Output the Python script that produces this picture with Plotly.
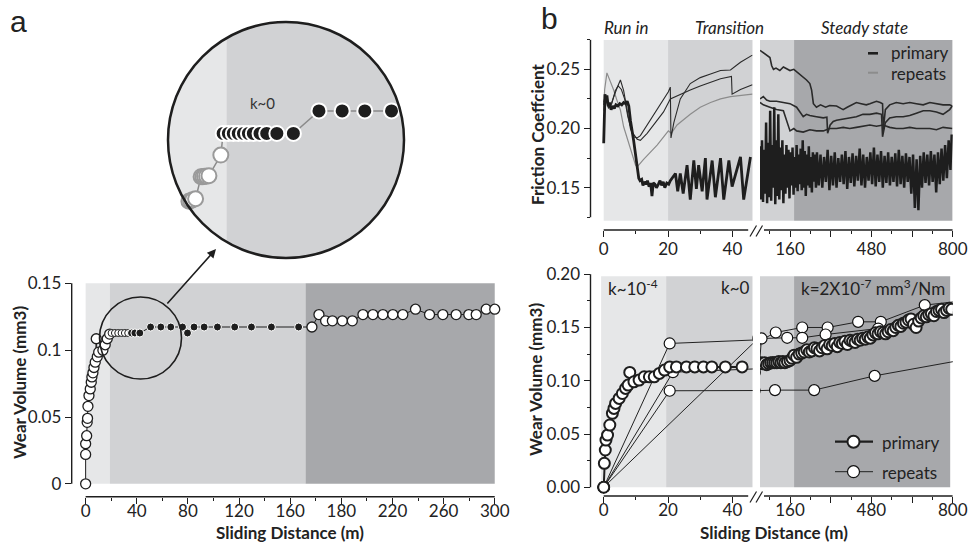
import plotly.graph_objects as go
import numpy as np

W, H = 971, 543
def PX(p): return p / W
def PY(p): return 1 - p / H

FONT = "Lato, 'Open Sans', sans-serif"
INK = "#1e1e1e"
LIGHT, MED, DARK = "#e6e7e8", "#d1d2d4", "#a7a8ab"

# ---------------- panel a : wear volume (axis positions as drawn) ----------------
a_open1_x = [0, 0, 0, 0.8, 1.2, 1.5, 1.8, 2.6, 3.6, 4.4, 4.9, 5.7, 6.5, 7.5, 8.3, 9.1, 10.2, 13.5, 15.3, 16.9, 18.8]
a_open1_v = [0, 0.022, 0.030, 0.036, 0.046, 0.049, 0.058, 0.066, 0.071, 0.076, 0.080, 0.083, 0.087, 0.091, 0.1085, 0.095, 0.0985, 0.100, 0.104, 0.1085, 0.112]
a_small_x = [20.3, 22.9, 25.5, 28.1, 30.7, 33.3]
a_small_v = [0.1128, 0.1128, 0.1128, 0.1128, 0.1128, 0.1128]
a_black_x = [35.9, 38.5, 42.4, 50.8, 58.8, 66.6, 75.8, 79.7, 84.8, 92.7, 103.1, 116.6, 129.7, 145.3, 166.6]
a_black_v = [0.1128, 0.1128, 0.1128, 0.1173, 0.1173, 0.1173, 0.1173, 0.1128, 0.1173, 0.1173, 0.1173, 0.1173, 0.1173, 0.1173, 0.1173]
a_open2_x = [177, 182.5, 187.7, 193, 200.8, 208.6, 216.9, 224.7, 232.5, 240.3, 248.1, 258, 269, 279.4, 289.8, 299.7, 305.5, 313.3, 320]
a_open2_v = [0.1173, 0.1266, 0.1219, 0.1219, 0.1219, 0.1219, 0.1266, 0.1266, 0.1266, 0.1266, 0.1266, 0.1306, 0.1266, 0.1266, 0.1266, 0.1266, 0.1266, 0.1306, 0.1306]
a_xtick_vals = [0, 40, 80, 120, 160, 200, 240, 280, 320]
a_xtick_text = ["0", "40", "80", "120", "160", "180", "220", "260", "300"]
a_xminor_vals = [20, 60, 100, 140, 180, 220, 260, 300]
a_ytick_vals = [0, 0.05, 0.1, 0.15]
a_ytick_text = ["0", "0.05", "0.1", "0.15"]
a_zones = [(0, 19, LIGHT), (19, 172, MED), (172, 320, DARK)]

# magnified inset
ins_gray_x = [6.0, 6.6, 7.3, 8.3, 10.2, 10.8, 11.4, 12.1, 12.9, 17.0]
ins_gray_v = [0.0993, 0.0994, 0.0996, 0.0998, 0.1042, 0.1042, 0.1043, 0.1043, 0.1044, 0.1085]
ins_black_x = [17.8, 19.6, 21.3, 23.0, 24.8, 26.5, 28.2, 30.5, 32.8, 36.3, 42.0, 50.8, 58.8, 66.6, 75.8]
ins_black_v = [0.1128] * 11 + [0.1173] * 4

# ---------------- panel b top : friction coefficient ----------------
fp_l_x = [0, 0.2, 0.4, 0.7, 1.0, 1.4, 1.8, 2.3, 2.8, 3.3, 3.8, 4.4, 5.0, 5.6, 6.2, 6.8, 7.3, 7.8, 8.3, 9.3,
          10.4, 10.9, 11.3, 11.8, 12.2, 12.7, 13.2, 13.6, 14.1, 14.6, 15.0, 15.4, 15.9, 16.4, 17.0, 17.5, 18.0,
          18.5, 19.0, 19.6, 20.2, 20.7, 22.3, 23.0, 23.8, 24.7, 25.9, 26.9, 28.0, 28.8, 29.5, 30.6, 31.6, 32.1,
          33.7, 34.7, 36.3, 37.3, 38.9, 39.9, 42.5, 43.5, 45.6]
fp_l_v = [0.1875, 0.215, 0.229, 0.224, 0.228, 0.219, 0.222, 0.216, 0.219, 0.217, 0.220, 0.219, 0.221, 0.220,
          0.222, 0.221, 0.223, 0.219, 0.207, 0.190, 0.168, 0.158, 0.156, 0.157, 0.152, 0.155, 0.153, 0.156,
          0.151, 0.154, 0.143, 0.154, 0.153, 0.150, 0.153, 0.156, 0.152, 0.155, 0.150, 0.154, 0.153, 0.156,
          0.162, 0.147, 0.162, 0.145, 0.169, 0.140, 0.173, 0.149, 0.169, 0.147, 0.175, 0.140, 0.173, 0.142,
          0.175, 0.140, 0.173, 0.151, 0.176, 0.140, 0.176]
fr1_x = [0, 0.5, 1.5, 2.5, 4.1, 5.2, 6.2, 7.3, 8.3, 9.3, 10.4, 11.4, 14.5, 16.6, 18.6, 20.1, 20.7, 20.9,
         21.8, 23.8, 26.9, 30.0, 33.2, 36.3, 39.4, 42.5, 46.2]
fr1_v = [0.222, 0.228, 0.218, 0.222, 0.234, 0.241, 0.232, 0.215, 0.200, 0.193, 0.192, 0.194, 0.207, 0.216,
         0.225, 0.231, 0.235, 0.192, 0.205, 0.225, 0.238, 0.243, 0.246, 0.249, 0.2495, 0.256, 0.262]
fr2_x = [0, 0.5, 1.5, 2.5, 3.6, 4.5, 5.5, 6.5, 7.5, 8.8, 10.4, 11.4, 13.5, 16.6, 18.6, 20.7, 23.8, 26.9,
         30.0, 33.2, 36.3, 39.7, 39.9, 42.5, 46.2]
fr2_v = [0.220, 0.226, 0.217, 0.221, 0.232, 0.236, 0.233, 0.225, 0.210, 0.197, 0.191, 0.190, 0.196, 0.207,
         0.214, 0.225, 0.229, 0.2325, 0.236, 0.239, 0.242, 0.244, 0.229, 0.233, 0.237]
fr3_x = [0, 0.3, 1.0, 2.1, 3.1, 4.1, 5.2, 6.2, 7.3, 8.8, 9.9, 10.4, 12.4, 16.6, 20.1, 21.0, 22.8, 26.9,
         30.0, 33.2, 36.3, 39.4, 42.5, 46.2]
fr3_v = [0.215, 0.233, 0.247, 0.240, 0.2325, 0.224, 0.2156, 0.2015, 0.192, 0.179, 0.169, 0.1677, 0.174,
         0.186, 0.198, 0.196, 0.203, 0.212, 0.218, 0.222, 0.225, 0.227, 0.228, 0.229]

fp_r_x = [42, 46, 50, 54, 58, 62, 66, 70, 74, 78, 82, 86, 90, 94, 98, 102, 106, 110, 114, 118, 122, 126,
          130, 134, 138, 142, 146, 150, 154, 158, 162, 166, 170, 174, 178, 182, 186, 190, 194, 198, 202,
          206, 210, 214, 218, 222, 226, 230, 234, 238, 242, 246, 250, 254, 258, 262,
          266, 273, 280, 287, 294, 301, 308, 315, 322, 329, 336, 343, 350, 357, 364, 371, 378, 385, 392,
          399, 406, 413, 420, 427, 434, 441, 448, 455, 462, 469, 476, 483, 490, 497, 504, 511, 518, 525,
          532, 539, 546, 553, 560, 567, 574, 581, 588, 595, 602, 609, 616, 623, 630, 637, 644, 651, 658,
          665, 672, 679, 686, 693, 700, 707, 714, 721, 728, 735, 742, 749, 756, 763, 770, 777, 784, 791, 796]
fp_r_v = [0.185, 0.140, 0.190, 0.138, 0.182, 0.145, 0.205, 0.137, 0.188, 0.142, 0.215, 0.139, 0.186, 0.150,
          0.218, 0.136, 0.190, 0.143, 0.212, 0.140, 0.184, 0.148, 0.190, 0.137, 0.178, 0.145, 0.186, 0.150,
          0.182, 0.141, 0.180, 0.152, 0.184, 0.144, 0.176, 0.150, 0.186, 0.147, 0.178, 0.153, 0.183, 0.148,
          0.190, 0.150, 0.181, 0.143, 0.178, 0.152, 0.185, 0.150, 0.176, 0.146, 0.180, 0.155, 0.178, 0.150,
          0.180, 0.152, 0.178, 0.150, 0.176, 0.155, 0.182, 0.148, 0.177, 0.152, 0.180, 0.150, 0.175, 0.155,
          0.178, 0.153, 0.181, 0.149, 0.176, 0.154, 0.179, 0.151, 0.177, 0.156, 0.183, 0.152, 0.178, 0.150,
          0.176, 0.156, 0.180, 0.153, 0.184, 0.151, 0.178, 0.155, 0.181, 0.150, 0.177, 0.154, 0.180, 0.152,
          0.176, 0.155, 0.179, 0.151, 0.182, 0.153, 0.177, 0.150, 0.179, 0.155, 0.176, 0.145, 0.178, 0.133,
          0.174, 0.131, 0.177, 0.150, 0.180, 0.154, 0.178, 0.152, 0.181, 0.155, 0.178, 0.146, 0.180, 0.153,
          0.183, 0.156, 0.186, 0.158, 0.190, 0.165, 0.195]
fc1_x = [42, 55, 68, 81, 88, 95, 105, 120, 134, 150, 160, 175, 186, 200, 212, 225, 238, 245, 252, 264, 280,
         291, 300, 316, 330, 343, 360, 369, 385, 395, 410, 421, 440, 460, 474, 490, 500, 515, 524, 527, 535,
         552, 578, 605, 631, 657, 684, 710, 736, 762, 788, 798]
fc1_v = [0.266, 0.264, 0.262, 0.260, 0.253, 0.250, 0.251, 0.249, 0.252, 0.250, 0.249, 0.250, 0.248, 0.246,
         0.243, 0.241, 0.238, 0.2325, 0.221, 0.218, 0.220, 0.219, 0.218, 0.2195, 0.219, 0.219, 0.217, 0.216,
         0.218, 0.219, 0.221, 0.222, 0.221, 0.220, 0.221, 0.222, 0.223, 0.222, 0.221, 0.199, 0.216, 0.220,
         0.222, 0.221, 0.222, 0.221, 0.220, 0.222, 0.221, 0.220, 0.220, 0.219]
fc2_x = [42, 55, 68, 81, 107, 134, 160, 186, 200, 212, 225, 238, 264, 291, 305, 308, 318, 330, 343, 369,
         395, 421, 447, 474, 500, 520, 524, 535, 552, 578, 605, 631, 657, 684, 710, 736, 762, 788, 798]
fc2_v = [0.225, 0.227, 0.224, 0.223, 0.223, 0.222, 0.221, 0.218, 0.214, 0.210, 0.212, 0.211, 0.210, 0.209,
         0.2095, 0.196, 0.203, 0.206, 0.207, 0.208, 0.209, 0.210, 0.212, 0.212, 0.213, 0.212, 0.193, 0.205,
         0.209, 0.210, 0.210, 0.211, 0.213, 0.215, 0.215, 0.214, 0.212, 0.216, 0.219]
fc3_x = [42, 55, 81, 107, 134, 150, 160, 175, 186, 212, 238, 264, 291, 316, 343, 369, 395, 421, 447, 474,
         500, 526, 552, 578, 605, 631, 657, 684, 710, 736, 762, 798]
fc3_v = [0.222, 0.220, 0.218, 0.216, 0.215, 0.205, 0.198, 0.200, 0.198, 0.197, 0.199, 0.198, 0.198, 0.200,
         0.200, 0.201, 0.200, 0.201, 0.202, 0.203, 0.202, 0.203, 0.201, 0.200, 0.200, 0.201, 0.200, 0.200,
         0.200, 0.199, 0.201, 0.200]

# ---------------- panel b bottom : wear volume ----------------
wp_l_x = [0, 0.2, 0.5, 0.7, 1.2, 1.9, 2.7, 3.2, 3.7, 4.8, 5.8, 6.8, 7.6, 8.1, 9.4, 11.0, 12.6, 14.2, 15.7,
          17.3, 18.9, 20.5, 22.6, 25.7, 28.3, 31.0, 33.6, 37.8, 43.0]
wp_l_v = [0, 0.0225, 0.035, 0.0443, 0.049, 0.0584, 0.0694, 0.074, 0.0787, 0.0834, 0.088, 0.0928, 0.0959,
          0.1078, 0.099, 0.1006, 0.1037, 0.1037, 0.1037, 0.1069, 0.110, 0.113, 0.113, 0.113, 0.113, 0.113,
          0.113, 0.113, 0.113]
wp_r_x = [44, 52, 60, 68, 76, 84, 92, 100, 108, 116, 124, 132, 140, 150, 160, 168, 176, 186, 196, 206, 216,
          226, 236, 246, 256, 266, 276, 286, 296, 306, 316, 326, 336, 346, 356, 366, 376, 386, 396, 406, 416,
          426, 436, 446, 456, 466, 476, 486, 496, 506, 516, 526, 536, 546, 556, 566, 576, 586, 596, 606, 616,
          626, 636, 646, 656, 666, 676, 686, 696, 706, 716, 726, 736, 746, 756, 766, 776, 786, 796]
wp_r_v = [0.117, 0.116, 0.117, 0.115, 0.116, 0.117, 0.117, 0.117, 0.117, 0.118, 0.117, 0.118, 0.117, 0.118,
          0.119, 0.121, 0.124, 0.122, 0.125, 0.126, 0.127, 0.129, 0.127, 0.128, 0.131, 0.130, 0.128, 0.131,
          0.133, 0.130, 0.134, 0.133, 0.135, 0.132, 0.136, 0.135, 0.137, 0.134, 0.138, 0.137, 0.136, 0.139,
          0.138, 0.140, 0.139, 0.141, 0.140, 0.143, 0.145, 0.144, 0.146, 0.145, 0.144, 0.146, 0.148, 0.147,
          0.150, 0.152, 0.151, 0.154, 0.155, 0.157, 0.158, 0.153, 0.150, 0.156, 0.159, 0.161, 0.160, 0.162,
          0.163, 0.161, 0.165, 0.166, 0.167, 0.164, 0.166, 0.168, 0.167]
rep_a_x = [0, 20.5, 104, 208, 308, 428, 517, 690, 840]
rep_a_v = [0, 0.135, 0.1453, 0.150, 0.150, 0.1553, 0.1553, 0.171, 0.175]
rep_b_x = [0, 48, 149, 208, 300, 507, 850]
rep_b_v = [0, 0.1397, 0.1403, 0.1403, 0.1434, 0.149, 0.170]
rep_c_x = [0, 21.5, 95]
rep_c_v = [0, 0.108, 0.117]
rep_d_x = [0, 20.5, 101, 255, 493, 850]
rep_d_v = [0, 0.0906, 0.0912, 0.0912, 0.1046, 0.120]
repeats = [(rep_a_x, rep_a_v), (rep_b_x, rep_b_v), (rep_c_x, rep_c_v), (rep_d_x, rep_d_v)]

b_left_ticks = [0, 20, 40]
b_left_minor = [10, 30]
b_right_ticks = [160, 320, 480, 640, 800]
b_right_text = ["160", "", "480", "", "800"]
b_right_minor = [80, 240, 400, 560, 720]

# ---------------- figure ----------------
fig = go.Figure()

def add(x, y, xa, ya, **kw):
    fig.add_trace(go.Scatter(x=x, y=y, xaxis=xa, yaxis=ya, showlegend=False, hoverinfo="skip", **kw))

# panel a
a_all_x = a_open1_x + a_small_x + a_black_x + a_open2_x
a_all_v = a_open1_v + a_small_v + a_black_v + a_open2_v
add(a_all_x, a_all_v, "x", "y", mode="lines", line=dict(color=INK, width=1))
openm = dict(color="white", size=10, line=dict(color=INK, width=1.3))
add(a_open1_x, a_open1_v, "x", "y", mode="markers", marker=openm, cliponaxis=False)
add(a_small_x, a_small_v, "x", "y", mode="markers",
    marker=dict(color="white", size=7, line=dict(color=INK, width=1)), cliponaxis=False)
add(a_black_x, a_black_v, "x", "y", mode="markers",
    marker=dict(color=INK, size=8, line=dict(color="white", width=1)), cliponaxis=False)
add(a_open2_x, a_open2_v, "x", "y", mode="markers", marker=openm, cliponaxis=False)

# inset
add(ins_gray_x + ins_black_x, ins_gray_v + ins_black_v, "x6", "y6", mode="lines",
    line=dict(color="#8a8a8a", width=1.5))
add(ins_gray_x, ins_gray_v, "x6", "y6", mode="markers",
    marker=dict(color="white", size=15, line=dict(color="#9a9a9a", width=2)))
add(ins_black_x, ins_black_v, "x6", "y6", mode="markers",
    marker=dict(color=INK, size=15, line=dict(color="white", width=2)))

# friction
for xs, vs, col, wd in [(fr3_x, fr3_v, "#8c8c8c", 1.2), (fr1_x, fr1_v, "#2a2a2a", 1.1),
                        (fr2_x, fr2_v, "#2a2a2a", 1.1), (fp_l_x, fp_l_v, INK, 2.8)]:
    add(xs, vs, "x2", "y2", mode="lines", line=dict(color=col, width=wd))
for xs, vs in [(fc1_x, fc1_v), (fc2_x, fc2_v), (fc3_x, fc3_v)]:
    add(xs, vs, "x3", "y3", mode="lines", line=dict(color="#2a2a2a", width=1.6))
add(fp_r_x, fp_r_v, "x3", "y3", mode="lines", line=dict(color=INK, width=2.5))

# wear volume b
repm = dict(color="white", size=11, line=dict(color="#111", width=1.2))
for xa, ya in [("x4", "y4"), ("x5", "y5")]:
    for xs, vs in repeats:
        add(xs, vs, xa, ya, mode="lines+markers", line=dict(color="#222", width=1), marker=repm)
prim = dict(color="white", size=11, line=dict(color=INK, width=2))
add(wp_l_x, wp_l_v, "x4", "y4", mode="lines+markers", line=dict(color=INK, width=2), marker=prim)
add(wp_r_x, wp_r_v, "x5", "y5", mode="lines+markers", line=dict(color=INK, width=2), marker=prim)

# ---------------- axes ----------------
tf = dict(family=FONT, size=17, color="#222")
def ax(**kw):
    d = dict(showgrid=False, zeroline=False, showline=False, ticks="outside", tickcolor=INK,
             tickwidth=1.4, ticklen=6, tickfont=tf, automargin=False)
    d.update(kw)
    return d
def minor(vals):
    return dict(tickvals=vals, ticks="outside", ticklen=3, tickcolor=INK, tickwidth=1.2)
def hidden(**kw):
    d = dict(visible=False, automargin=False)
    d.update(kw)
    return d

xl_dom = [PX(590.5), PX(752.7)]
xr_dom = [PX(760), PX(952.8)]
yt_dom = [PY(230), PY(39.5)]
yb_dom = [PY(496), PY(274)]

fig.update_layout(
    template="none",
    width=W, height=H, autosize=False, margin=dict(l=0, r=0, t=0, b=0, pad=0),
    paper_bgcolor="white", plot_bgcolor="rgba(0,0,0,0)", showlegend=False,
    font=dict(family=FONT, color="#222"),
    xaxis=ax(domain=[PX(71.7), PX(495)], range=[-10.9, 320.2], anchor="y", ticklabelstandoff=-7,
             tickmode="array", tickvals=a_xtick_vals, ticktext=a_xtick_text, minor=minor(a_xminor_vals)),
    yaxis=ax(domain=[PY(496.7), PY(283)], range=[-0.0096, 0.1502], anchor="x",
             tickmode="array", tickvals=a_ytick_vals, ticktext=a_ytick_text),
    xaxis2=ax(domain=xl_dom, range=[-4.1, 46.3], anchor="y2", tickmode="array", ticklabelstandoff=-2,
              tickvals=b_left_ticks, minor=minor(b_left_minor)),
    yaxis2=ax(domain=yt_dom, range=[0.1143, 0.2752], anchor="x2", tickmode="array",
              tickvals=[0.15, 0.20, 0.25], ticktext=["0.15", "0.20", "0.25"],
              minor=minor([0.125, 0.175, 0.225, 0.275])),
    xaxis3=ax(domain=xr_dom, range=[42, 800.3], anchor="y3", tickmode="array", ticklabelstandoff=-2,
              tickvals=b_right_ticks, ticktext=b_right_text, minor=minor(b_right_minor)),
    yaxis3=hidden(domain=yt_dom, range=[0.1143, 0.2752], anchor="x3"),
    xaxis4=ax(domain=xl_dom, range=[-4.1, 46.3], anchor="y4", tickmode="array", ticklabelstandoff=-7,
              tickvals=b_left_ticks, minor=minor(b_left_minor)),
    yaxis4=ax(domain=yb_dom, range=[-0.0082, 0.2002], anchor="x4", tickmode="array",
              tickvals=[0, 0.05, 0.10, 0.15, 0.20], ticktext=["0.00", "0.05", "0.10", "0.15", "0.20"],
              minor=minor([0.025, 0.075, 0.125, 0.175])),
    xaxis5=ax(domain=xr_dom, range=[42, 800.3], anchor="y5", tickmode="array", ticklabelstandoff=-7,
              tickvals=b_right_ticks, ticktext=b_right_text, minor=minor(b_right_minor)),
    yaxis5=hidden(domain=yb_dom, range=[-0.0082, 0.2002], anchor="x5"),
    xaxis6=hidden(domain=[PX(168), PX(404)], range=[-1.2, 80.1], anchor="y6"),
    yaxis6=hidden(domain=[PY(258), PY(22)], range=[0.0880, 0.1350], anchor="x6"),
)

# ---------------- shapes ----------------
shapes = []
def rect(xref, yref, x0, x1, y0, y1, col, layer="below"):
    shapes.append(dict(type="rect", xref=xref, yref=yref, x0=x0, x1=x1, y0=y0, y1=y1,
                       fillcolor=col, line=dict(width=0), layer=layer))
def line(xref, yref, x0, x1, y0, y1, col=INK, w=1.4, layer="above"):
    shapes.append(dict(type="line", xref=xref, yref=yref, x0=x0, x1=x1, y0=y0, y1=y1,
                       line=dict(color=col, width=w), layer=layer))

for x0, x1, c in a_zones:
    rect("x", "y", x0, x1, 0, 0.15, c)
rect("x2", "y2", 0, 20, 0.1222, 0.2747, LIGHT)
rect("x2", "y2", 20, 46.3, 0.1222, 0.2747, MED)
rect("x3", "y3", 42, 176, 0.1222, 0.2747, MED)
rect("x3", "y3", 176, 799, 0.1222, 0.2747, DARK)
rect("paper", "paper", PX(861.7), PX(953), PY(87.7), PY(40), "white")
rect("x4", "y4", -0.8, 19.4, 0, 0.198, LIGHT)
rect("x4", "y4", 19.4, 46.3, 0, 0.198, MED)
rect("x5", "y5", 42, 176, 0, 0.198, MED)
rect("x5", "y5", 176, 790, 0, 0.198, DARK)
rect("paper", "paper", PX(829), PX(953), PY(488), PY(428), "white")

# axis lines (detached)
line("x domain", "y", 0, 0, 0, 0.15)
line("x", "y domain", 0, 320, 0, 0)
line("x2 domain", "y2", 0, 0, 0.125, 0.275)
line("x2", "y2 domain", 0, 44.9, 0, 0)
line("x3", "y3 domain", 57.7, 800, 0, 0)
line("x4 domain", "y4", 0, 0, 0, 0.2)
line("x4", "y4 domain", 0, 44.9, 0, 0)
line("x5", "y5 domain", 57.7, 800, 0, 0)
for yc in (231, 497):
    for xo in (750, 756):
        line("paper", "paper", PX(xo), PX(xo + 6.5), PY(yc + 5.5), PY(yc - 5.5), w=1.2)

# magnifier circle with light segment
cx, cy, r, bx = 286.0, 140.0, 118.0, 226.7
shapes.append(dict(type="circle", xref="paper", yref="paper", x0=PX(cx - r), x1=PX(cx + r),
                   y0=PY(cy + r), y1=PY(cy - r), fillcolor=MED, line=dict(width=0), layer="below"))
ang = np.arccos((bx - cx) / r)
ts = np.linspace(ang, 2 * np.pi - ang, 60)
pts = [(cx + r * np.cos(t), cy + r * np.sin(t)) for t in ts]
path = "M " + " L ".join(f"{PX(px):.5f},{PY(py):.5f}" for px, py in pts) + " Z"
shapes.append(dict(type="path", xref="paper", yref="paper", path=path, fillcolor=LIGHT,
                   line=dict(width=0), layer="below"))
shapes.append(dict(type="circle", xref="paper", yref="paper", x0=PX(cx - r), x1=PX(cx + r),
                   y0=PY(cy + r), y1=PY(cy - r), line=dict(color=INK, width=2.5), layer="above"))
# small circle
shapes.append(dict(type="circle", xref="paper", yref="paper", x0=PX(140.5 - 41), x1=PX(140.5 + 41),
                   y0=PY(338 + 41), y1=PY(338 - 41), line=dict(color=INK, width=1.6), layer="above"))

# legend samples
line("paper", "paper", PX(868), PX(878), PY(53.3), PY(53.3), INK, 2.6)
line("paper", "paper", PX(868), PX(878), PY(72.7), PY(72.7), "#8c8c8c", 2)
line("paper", "paper", PX(835), PX(873), PY(441.7), PY(441.7), INK, 2.2)
line("paper", "paper", PX(835), PX(873), PY(471.7), PY(471.7), "#222", 1)
shapes.append(dict(type="circle", xref="paper", yref="paper", x0=PX(847.5), x1=PX(859.5), y0=PY(447.7),
                   y1=PY(435.7), fillcolor="white", line=dict(color=INK, width=2), layer="above"))
shapes.append(dict(type="circle", xref="paper", yref="paper", x0=PX(847.5), x1=PX(859.5), y0=PY(477.7),
                   y1=PY(465.7), fillcolor="white", line=dict(color="#111", width=1.2), layer="above"))
fig.update_layout(shapes=shapes)

# ---------------- text ----------------
ann = []
def txt(t, x, y, size=17, xanchor="center", angle=0, family=FONT, color="#222", yanchor="middle"):
    ann.append(dict(text=t, x=PX(x), y=PY(y), xref="paper", yref="paper", showarrow=False,
                    xanchor=xanchor, yanchor=yanchor, textangle=angle,
                    font=dict(family=family, size=size, color=color)))

txt("a", 18, 3, 30, family="Liberation Sans, Arial, sans-serif", yanchor="top")
txt("b", 549, 0, 30, family="Liberation Sans, Arial, sans-serif", yanchor="top")
txt("<i>Run in</i>", 626, 28)
txt("<i>Transition</i>", 729, 28)
txt("<i>Steady state</i>", 864, 28)
txt("<b>Wear Volume (mm3)</b>", 19, 383, angle=-90)
txt("<b>Sliding Distance (m)</b>", 290, 532)
txt("<b>Friction Coeffcient</b>", 537, 135, angle=-90)
txt("<b>Wear Volume (mm3)</b>", 535, 380, angle=-90)
txt("<b>Sliding Distance (m)</b>", 774, 532)
txt("k~10<sup>-4</sup>", 606, 287, xanchor="left")
txt("k~0", 751, 287, xanchor="right")
txt("k=2X10<sup>-7</sup> mm<sup>3</sup>/Nm", 873, 287)
txt("k~0", 262, 103, 15, color="#333")
txt("primary", 889, 53, xanchor="left")
txt("repeats", 889, 73, xanchor="left")
txt("primary", 880, 442, xanchor="left")
txt("repeats", 880, 472, xanchor="left")
ann.append(dict(text="", x=PX(216), y=PY(249), xref="paper", yref="paper", showarrow=True,
                ax=-50, ay=56, arrowhead=2, arrowsize=1.1, arrowwidth=1.6, arrowcolor=INK))
fig.update_layout(annotations=ann)

fig.write_html("out.html")
